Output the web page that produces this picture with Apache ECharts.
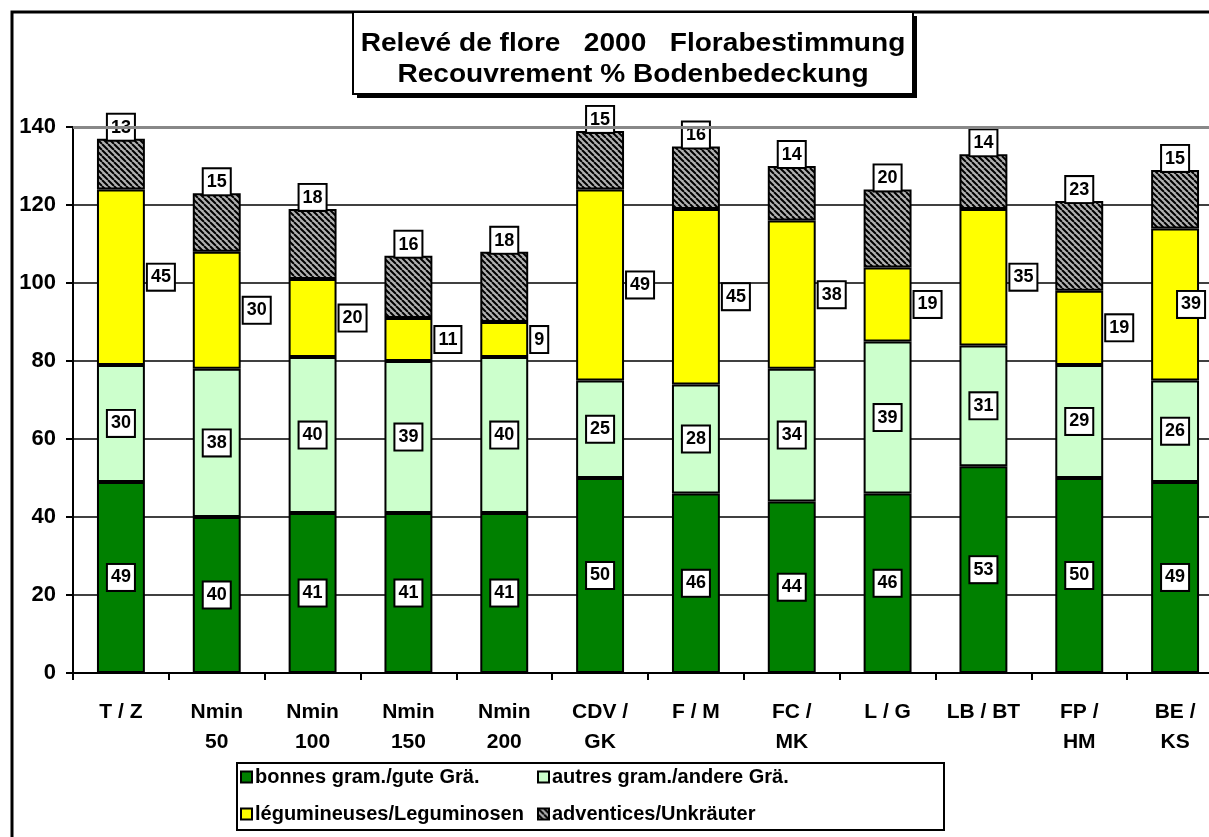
<!DOCTYPE html>
<html>
<head>
<meta charset="utf-8">
<script src="https://cdn.jsdelivr.net/npm/echarts@6/dist/echarts.min.js"></script>
<style>
html,body{margin:0;padding:0;background:#fff;}
#chart{width:1209px;height:837px;}
</style>
</head>
<body>
<div id="chart"></div>
<script>
const categories = ['T / Z', 'Nmin\n50', 'Nmin\n100', 'Nmin\n150', 'Nmin\n200', 'CDV /\nGK', 'F / M', 'FC /\nMK', 'L / G', 'LB / BT', 'FP /\nHM', 'BE /\nKS'];
const seriesNames = ['bonnes gram./gute Grä.', 'autres gram./andere Grä.', 'légumineuses/Leguminosen', 'adventices/Unkräuter'];
const goodGrasses = [49, 40, 41, 41, 41, 50, 46, 44, 46, 53, 50, 49];
const otherGrasses = [30, 38, 40, 39, 40, 25, 28, 34, 39, 31, 29, 26];
const legumes = [45, 30, 20, 11, 9, 49, 45, 38, 19, 35, 19, 39];
const weeds = [13, 15, 18, 16, 18, 15, 16, 14, 20, 14, 23, 15];
const yMin = 0, yMax = 140, yStep = 20;
const titleLines = ['Relevé de flore   2000   Florabestimmung', 'Recouvrement % Bodenbedeckung'];

const FONT = '"Liberation Sans", Arial, sans-serif';

// hatch pattern
const pc = document.createElement('canvas');
pc.width = 6; pc.height = 6;
const px = pc.getContext('2d');
px.fillStyle = '#b0b0b0';
px.fillRect(0, 0, 6, 6);
px.strokeStyle = '#000';
px.lineWidth = 2;
px.beginPath();
[-6, 0, 6].forEach(k => { px.moveTo(k, 0); px.lineTo(k + 6, 6); });
px.stroke();
const hatch = { image: pc, repeat: 'repeat' };

const boxLabel = {
  show: true,
  color: '#000',
  fontFamily: FONT,
  fontWeight: 'bold',
  fontSize: 18,
  backgroundColor: '#fff',
  borderColor: '#000',
  borderWidth: 2,
  padding: [4, 3, 3, 3]
};

function barSeries(name, data, color, label) {
  return {
    name: name,
    type: 'bar',
    stack: 'total',
    barWidth: '50%',
    data: data,
    itemStyle: { color: color, borderColor: '#000', borderWidth: 2 },
    label: Object.assign({}, boxLabel, label),
    emphasis: { disabled: true }
  };
}

const chart = echarts.init(document.getElementById('chart'), null, { renderer: 'canvas' });

const series = [
  barSeries(seriesNames[0], goodGrasses, '#008000', { position: 'inside' }),
  barSeries(seriesNames[1], otherGrasses, '#ccffcc', { position: 'inside' }),
  barSeries(seriesNames[2], legumes.map((v, i) => i === legumes.length - 1 ? { value: v, label: { offset: [-24, 0] } } : v), '#ffff00', { position: 'right', distance: 3 }),
  barSeries(seriesNames[3], weeds, hatch, { position: 'top', distance: -1 })
];
series[3].markLine = {
  silent: true,
  symbol: 'none',
  label: { show: false },
  lineStyle: { color: '#888', width: 3, type: 'solid' },
  data: [{ yAxis: yMax }]
};

function legendAt(name, left, top) {
  return {
    data: [name],
    left: left,
    top: top,
    icon: 'rect',
    itemWidth: 11,
    itemHeight: 11,
    itemGap: 0,
    padding: 0,
    selectedMode: false,
    textStyle: { color: '#000', fontFamily: FONT, fontWeight: 'bold', fontSize: 20, padding: [0, 0, 0, -2] }
  };
}

const option = {
  animation: false,
  backgroundColor: '#fff',
  textStyle: { fontFamily: FONT },
  grid: { left: 73, right: -14, top: 127, bottom: 164, containLabel: false, outerBoundsMode: 'none' },
  legend: [
    legendAt(seriesNames[0], 240, 767),
    legendAt(seriesNames[1], 537, 767),
    legendAt(seriesNames[2], 240, 804),
    legendAt(seriesNames[3], 537, 804)
  ],
  xAxis: {
    type: 'category',
    data: categories,
    axisLine: { lineStyle: { color: '#000', width: 2 } },
    axisTick: { show: true, length: 7, lineStyle: { color: '#000', width: 2 } },
    axisLabel: { color: '#000', fontFamily: FONT, fontWeight: 'bold', fontSize: 21, lineHeight: 30, margin: 24, interval: 0 }
  },
  yAxis: {
    type: 'value',
    min: yMin,
    max: yMax,
    interval: yStep,
    axisLine: { show: true, lineStyle: { color: '#000', width: 2 } },
    axisTick: { show: true, length: 7, lineStyle: { color: '#000', width: 2 } },
    axisLabel: { color: '#000', fontFamily: FONT, fontWeight: 'bold', fontSize: 22, margin: 17 },
    splitLine: { show: true, lineStyle: { color: '#000', width: 1.5 } }
  },
  series: series,
  graphic: [
    { type: 'polyline', shape: { points: [[12, 845], [12, 12], [1215, 12]] }, style: { stroke: '#000', lineWidth: 3, fill: null }, z: 10 },
    { type: 'rect', shape: { x: 357, y: 16, width: 560, height: 82 }, style: { fill: '#000' }, z: 20 },
    { type: 'rect', shape: { x: 353, y: 12, width: 560, height: 82 }, style: { fill: '#fff', stroke: '#000', lineWidth: 2 }, z: 21 },
    { type: 'text', x: 633, y: 44, scaleX: 1.08, style: { text: titleLines[0], font: 'bold 26px ' + FONT, fill: '#000', align: 'center', verticalAlign: 'middle' }, z: 22 },
    { type: 'text', x: 633, y: 75, scaleX: 1.08, style: { text: titleLines[1], font: 'bold 26px ' + FONT, fill: '#000', align: 'center', verticalAlign: 'middle' }, z: 22 },
    { type: 'rect', shape: { x: 237, y: 763, width: 707, height: 67 }, style: { fill: null, stroke: '#000', lineWidth: 2 }, z: 5 }
  ]
};

chart.setOption(option);
</script>
</body>
</html>
